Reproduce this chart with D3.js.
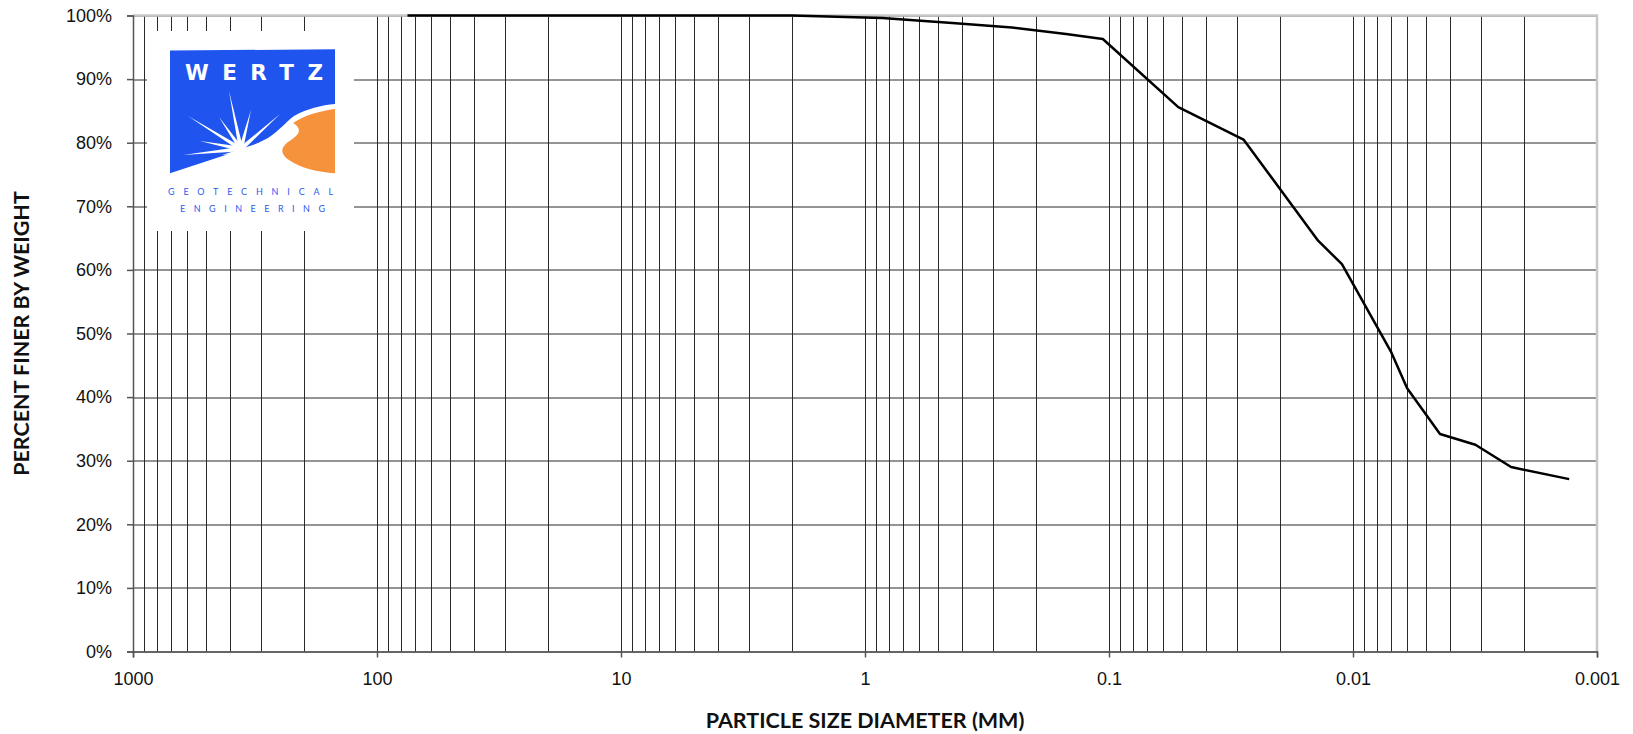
<!DOCTYPE html>
<html>
<head>
<meta charset="utf-8">
<script src="https://cdn.jsdelivr.net/npm/d3@7"></script>
<style>
  body { margin: 0; background: #fff; }
  svg { display: block; font-family: Lato, "Open Sans", sans-serif; }
  .axis text { font-size: 18px; fill: #111; }
  .axis path, .axis line { stroke: #555; stroke-width: 1.5; }
  .title { font-size: 21.5px; font-weight: bold; fill: #111; }
</style>
</head>
<body>
<svg id="chart" width="1633" height="734"></svg>
<script>
// gradation curve (sieve + hydrometer)
var sizes = [75, 50, 25, 19, 9.5, 4.75, 2.0, 0.85, 0.425, 0.25, 0.15, 0.106,
             0.052, 0.0281, 0.0139, 0.0111, 0.0070, 0.0060, 0.0044, 0.00315, 0.00225, 0.0013];
var finer = [100, 100, 100, 100, 100, 100, 100, 99.6, 98.8, 98.1, 97.1, 96.3,
             85.6, 80.5, 64.6, 60.9, 47.2, 41.4, 34.2, 32.5, 29.0, 27.1];

var xTicks = [1000, 100, 10, 1, 0.1, 0.01, 0.001];
var yTicks = [0, 10, 20, 30, 40, 50, 60, 70, 80, 90, 100];

var svg = d3.select("#chart"),
    margin = { top: 15.5, right: 36, bottom: 82.5, left: 133 },
    W = 1633, H = 734,
    width = W - margin.left - margin.right,
    height = H - margin.top - margin.bottom;

var x = d3.scaleLog().domain([1000, 0.001]).range([0, width]),
    y = d3.scaleLinear().domain([0, 100]).range([height, 0]);

var g = svg.append("g")
    .attr("transform", "translate(" + margin.left + "," + margin.top + ")");

// minor grid: 1..9 x every decade
var gridX = [];
for (var e = -3; e < 3; e++) {
    for (var k = 1; k <= 9; k++) gridX.push(k * Math.pow(10, e));
}
gridX.push(1000);

g.append("g").attr("class", "grid-x")
    .selectAll("line").data(gridX).enter().append("line")
    .attr("x1", function(d) { return Math.round(x(d)) + 0.5; })
    .attr("x2", function(d) { return Math.round(x(d)) + 0.5; })
    .attr("y1", 0).attr("y2", height)
    .attr("stroke", "#2a2a2a").attr("stroke-width", 1);

g.append("g").attr("class", "grid-y")
    .selectAll("line").data(yTicks).enter().append("line")
    .attr("x1", 0).attr("x2", width)
    .attr("y1", function(d) { return Math.round(y(d)) + 0.5; })
    .attr("y2", function(d) { return Math.round(y(d)) + 0.5; })
    .attr("stroke", "#2a2a2a").attr("stroke-width", 1);

// top / right frame
g.append("path")
    .attr("d", "M0,0H" + width + "V" + height)
    .attr("fill", "none").attr("stroke", "#c8c8c8").attr("stroke-width", 2.5);

// logo (white box hides the grid behind it)
var logo = svg.append("g").attr("class", "logo");
logo.append("rect").attr("x", 147).attr("y", 31).attr("width", 207).attr("height", 200).attr("fill", "#fff");
logo.append("path")
    .attr("d", "M170,50.5L335,49.3L335,104C322,105 306,109 294,116C286,122 280,130 268,138L250,147L170,173.3Z")
    .attr("fill", "#1f55ee");
logo.append("path")
    .attr("d", "M293,123C305,115 320,111 335,109L335,173.3C318,172 300,168 289,160C279,153 281,146 291,140C299,135 303,129 293,123Z")
    .attr("fill", "#f7923c");
// sun rays
var rays = [[183, 155], [188, 116], [200, 141], [219, 117], [229, 91], [251, 110], [280, 114]];
var cx = 241, cy = 149;
rays.forEach(function(t) {
    var dx = t[0] - cx, dy = t[1] - cy, len = Math.sqrt(dx * dx + dy * dy),
        nx = -dy / len * 2.2, ny = dx / len * 2.2;
    logo.append("path")
        .attr("d", "M" + (cx + nx) + "," + (cy + ny) + "L" + t[0] + "," + t[1] + "L" + (cx - nx) + "," + (cy - ny) + "Z")
        .attr("fill", "#fff");
});
logo.append("path").attr("d", "M222,155L262,142L260,152Z").attr("fill", "#fff");
logo.append("text").attr("x", 185).attr("y", 80)
    .attr("textLength", 138).attr("lengthAdjust", "spacing")
    .style("font-family", "'DejaVu Sans', sans-serif").style("font-weight", "bold")
    .style("font-size", "21.5px").attr("fill", "#fff").text("WERTZ");
logo.append("text").attr("x", 168).attr("y", 195)
    .attr("textLength", 165).attr("lengthAdjust", "spacing")
    .style("font-size", "9px").attr("fill", "#2a5bef").text("GEOTECHNICAL");
logo.append("text").attr("x", 180).attr("y", 212)
    .attr("textLength", 145).attr("lengthAdjust", "spacing")
    .style("font-size", "9px").attr("fill", "#2a5bef").text("ENGINEERING");

// axes
g.append("g").attr("class", "axis axis--x")
    .attr("transform", "translate(0," + height + ")")
    .call(d3.axisBottom(x).tickValues(xTicks).tickSize(6).tickPadding(15)
        .tickFormat(function(d) { return String(d); }));

g.append("g").attr("class", "axis axis--y")
    .call(d3.axisLeft(y).tickValues(yTicks).tickSize(6).tickPadding(15)
        .tickFormat(function(d) { return d + "%"; }));

g.selectAll(".axis .domain").attr("stroke", "#555");

// the curve
var line = d3.line()
    .x(function(d) { return x(d[0]); })
    .y(function(d) { return y(d[1]); });

g.append("path")
    .datum(d3.zip(sizes, finer))
    .attr("fill", "none")
    .attr("stroke", "#000")
    .attr("stroke-width", 2.5)
    .attr("stroke-linejoin", "round")
    .attr("d", line);

// titles
svg.append("text").attr("class", "title")
    .attr("transform", "translate(29," + (margin.top + height / 2) + ") rotate(-90)")
    .attr("text-anchor", "middle")
    .text("PERCENT FINER BY WEIGHT");

svg.append("text").attr("class", "title")
    .attr("x", margin.left + width / 2).attr("y", 728)
    .attr("text-anchor", "middle")
    .text("PARTICLE SIZE DIAMETER (MM)");
</script>
</body>
</html>
